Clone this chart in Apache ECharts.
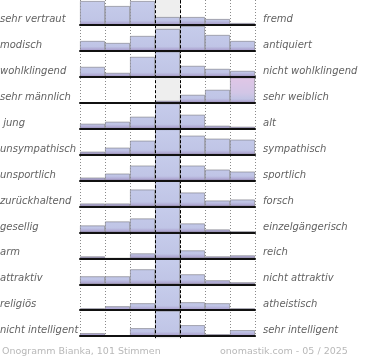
<!DOCTYPE html>
<html>
<head>
<meta charset="utf-8">
<script src="https://cdn.jsdelivr.net/npm/echarts@6/dist/echarts.min.js"></script>
<style>
html,body{margin:0;padding:0;background:#fff;}
#chart{width:370px;height:360px;}
</style>
</head>
<body>
<div id="chart"></div>
<script>
const leftLabels = ['sehr vertraut','modisch','wohlklingend','sehr männlich',' jung','unsympathisch','unsportlich','zurückhaltend','gesellig','arm','attraktiv','religiös','nicht intelligent'];
const rightLabels = ['fremd','antiquiert','nicht wohlklingend','sehr weiblich','alt','sympathisch','sportlich','forsch','einzelgängerisch','reich','nicht attraktiv','atheistisch','sehr intelligent'];
const categories = ['1','2','3','4','5','6','7'];

const vertrautFremd      = [24, 19, 24, 8, 8, 6, 2];
const modischAntiquiert  = [10, 8, 15, 22, 25, 16, 10];
const wohlklingend       = [10, 4, 20, 41, 11, 8, 6];
const maennlichWeiblich  = [0, 0, 0, 2, 8, 13, 77];
const jungAlt            = [5, 7, 12, 57, 14, 3, 2];
const sympathisch        = [3, 7, 14, 26, 19, 16, 15];
const sportlich          = [3, 7, 15, 40, 15, 11, 9];
const forsch             = [3, 3, 17, 50, 14, 6, 7];
const gesellig           = [7, 11, 14, 55, 9, 3, 1];
const armReich           = [2, 0, 5, 80, 8, 2, 3];
const attraktiv          = [8, 8, 15, 53, 10, 4, 2];
const religioes          = [2, 4, 7, 70, 8, 7, 2];
const intelligent        = [3, 1, 8, 69, 11, 2, 6];

const footerLeft = 'Onogramm Bianka, 101 Stimmen';
const footerRight = 'onomastik.com - 05 / 2025';

const rows = [vertrautFremd, modischAntiquiert, wohlklingend, maennlichWeiblich, jungAlt,
  sympathisch, sportlich, forsch, gesellig, armReich, attraktiv, religioes, intelligent];

const yMax = 25;
const plotLeft = 80, plotWidth = 175;
const firstBase = 25, pitch = 25.93, rowH = 25;

const grids = [], xAxes = [], yAxes = [], series = [], graphics = [];

rows.forEach((vals, r) => {
  const base = firstBase + r * pitch;
  const top = base - rowH;
  grids.push({left: plotLeft, width: plotWidth, top: top, height: rowH, containLabel: false});
  xAxes.push({type: 'category', gridIndex: r, data: categories, boundaryGap: true, z: 6,
    axisLine: {show: true, lineStyle: {color: '#111', width: 2}},
    axisTick: {show: false}, axisLabel: {show: false}, splitLine: {show: false}});
  yAxes.push({type: 'value', gridIndex: r, min: 0, max: yMax, show: false, splitLine: {show: false}});
  const blue = {type: 'linear', x: 0, y: top, x2: 0, y2: base, global: true,
    colorStops: [{offset: 0, color: '#c6cceb'}, {offset: 0.82, color: '#c0c5e6'}, {offset: 1, color: '#a597c7'}]};
  const pink = {type: 'linear', x: 0, y: top, x2: 0, y2: base, global: true,
    colorStops: [{offset: 0, color: '#e0c6e6'}, {offset: 0.6, color: '#d2c6e6'}, {offset: 0.85, color: '#c1c3e4'}, {offset: 1, color: '#a597c7'}]};
  series.push({
    type: 'bar', xAxisIndex: r, yAxisIndex: r, barCategoryGap: 0, clip: true, z: 3,
    silent: true,
    data: vals.map((v, i) => ({value: v, itemStyle: {color: (v > yMax && i !== 3) ? pink : blue}})),
    itemStyle: {borderColor: 'rgba(120,120,130,0.75)', borderWidth: 0.8}
  });
  graphics.push({type: 'text', left: 0, top: base - 10.5, silent: true,
    style: {text: leftLabels[r], font: 'italic 10px "DejaVu Sans"', fill: '#626262'}});
  graphics.push({type: 'text', left: 263, top: base - 10.5, silent: true,
    style: {text: rightLabels[r], font: 'italic 10px "DejaVu Sans"', fill: '#626262'}});
});

// background grid for column lines
const bg = rows.length;
grids.push({left: plotLeft, width: plotWidth, top: 0, height: firstBase + (rows.length - 1) * pitch + 2});
xAxes.push({type: 'value', gridIndex: bg, min: 0, max: 7, interval: 1, z: 0,
  axisLine: {show: false}, axisTick: {show: false}, axisLabel: {show: false},
  splitLine: {show: true, lineStyle: {color: '#8a8a8a', type: [1, 2], width: 1}}});
yAxes.push({type: 'value', gridIndex: bg, min: 0, max: 1, show: false, splitLine: {show: false}});
series.push({type: 'line', xAxisIndex: bg, yAxisIndex: bg, data: [], z: 1, silent: true,
  markArea: {silent: true, itemStyle: {color: '#eeeeee'}, data: [[{xAxis: 3}, {xAxis: 4}]]}});
series.push({type: 'line', xAxisIndex: bg, yAxisIndex: bg, data: [], z: 10, silent: true,
  markLine: {silent: true, symbol: 'none', label: {show: false},
    lineStyle: {color: '#000', type: [3, 2], width: 1},
    data: [{xAxis: 3}, {xAxis: 4}]}});

graphics.push({type: 'text', left: 2, top: 347, silent: true,
  style: {text: footerLeft, font: '9.5px "DejaVu Sans"', fill: '#b8b8b8'}});
graphics.push({type: 'text', left: 220, top: 347, silent: true,
  style: {text: footerRight, font: '9.5px "DejaVu Sans"', fill: '#b8b8b8'}});

const chart = echarts.init(document.getElementById('chart'), null, {renderer: 'canvas'});
chart.setOption({
  animation: false,
  backgroundColor: '#ffffff',
  grid: grids, xAxis: xAxes, yAxis: yAxes, series: series, graphic: graphics
});
</script>
</body>
</html>
